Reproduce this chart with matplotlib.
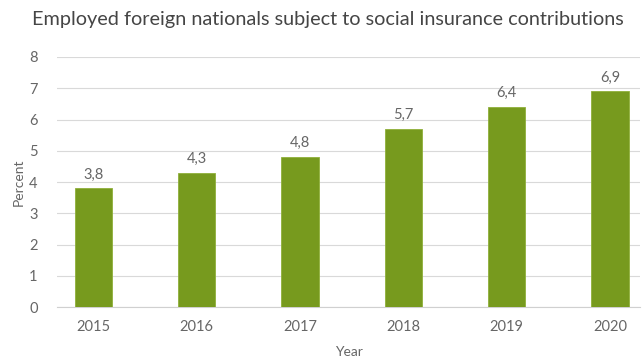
import matplotlib.pyplot as plt

years = ['2015', '2016', '2017', '2018', '2019', '2020']
share = [3.8, 4.3, 4.8, 5.7, 6.4, 6.9]
value_labels = ['3,8', '4,3', '4,8', '5,7', '6,4', '6,9']

plt.rcParams['font.family'] = ['Lato', 'DejaVu Sans']

fig = plt.figure(figsize=(6.42, 3.63), dpi=100)
ax = fig.add_axes([0.089, 0.154, 0.908, 0.689])

x = range(len(years))
bars = ax.bar(x, share, width=0.36, color='#779a1e', edgecolor='#8fb03a',
              linewidth=0.6, zorder=3)

for b, lab in zip(bars, value_labels):
    ax.text(b.get_x() + b.get_width() / 2, b.get_height() + 0.22, lab,
            ha='center', va='bottom', fontsize=10.5, color='#666666')

ax.set_xlim(-0.35, 5.29)
ax.set_ylim(0, 8)
ax.set_yticks(range(0, 9))
ax.set_xticks(list(x))
ax.set_xticklabels(years)
ax.tick_params(axis='both', length=0, labelsize=10.5, colors='#666666')
ax.tick_params(axis='y', pad=14)
ax.tick_params(axis='x', pad=9)
ax.grid(axis='y', color='#d9d9d9', linewidth=0.8, zorder=0)
for s in ['top', 'right', 'left']:
    ax.spines[s].set_visible(False)
ax.spines['bottom'].set_color('#d0d0d0')

ax.set_xlabel('Year', fontsize=10, color='#666666', labelpad=9)
ax.set_ylabel('Percent', fontsize=10, color='#666666', labelpad=3)
fig.text(0.51, 0.945, 'Employed foreign nationals subject to social insurance contributions',
         ha='center', va='center', fontsize=14.3, color='#454545')

fig.savefig('out.png', dpi=100, facecolor='white')
